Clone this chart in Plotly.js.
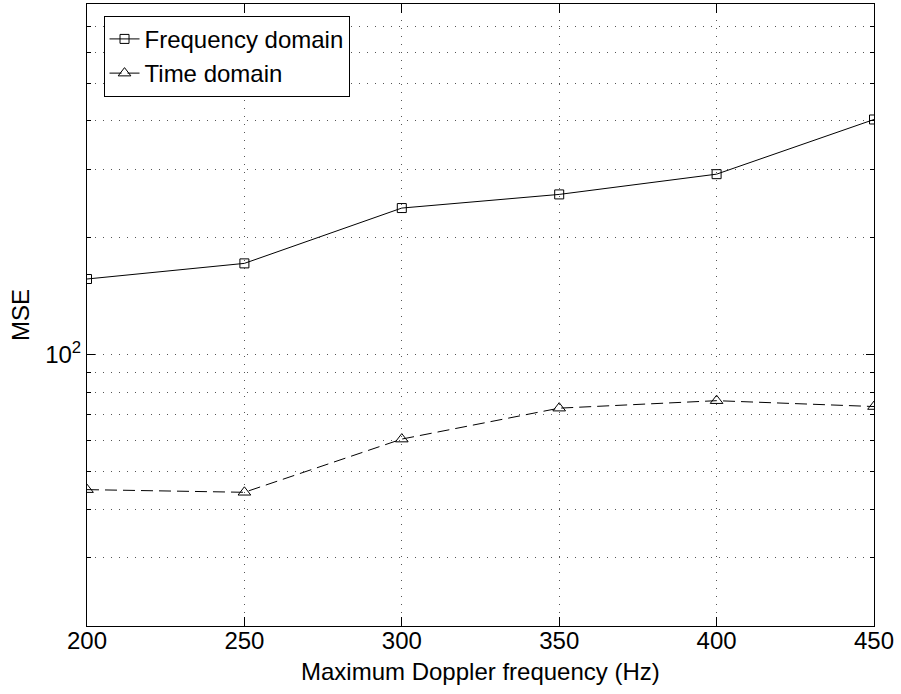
<!DOCTYPE html>
<html>
<head>
<meta charset="utf-8">
<script src="https://cdn.plot.ly/plotly-3.0.1.min.js"></script>
<style>
html,body{margin:0;padding:0;background:#fff;}
#chart{width:901px;height:694px;}
</style>
</head>
<body>
<div id="chart"></div>
<script>
// Data
const dopplerHz = [200, 250, 300, 350, 400, 450];
const mseFrequencyDomain = [156.6, 171.8, 238.5, 258.6, 291.6, 403.3];
const mseTimeDomain = [44.9, 44.2, 60.6, 72.8, 76.1, 73.5];
const seriesNames = ["Frequency domain", "Time domain"];

const xTickVals = [200, 250, 300, 350, 400, 450];
const yMajorVals = [100];
const yMajorText = ["10<sup>2</sup>"];
const yMinorVals = [20, 30, 40, 50, 60, 70, 80, 90, 200, 300, 400, 500, 600, 700, 800];
const xAxisTitle = "Maximum Doppler frequency (Hz)";
const yAxisTitle = "MSE";

const FONT = "Liberation Sans, Arial, Helvetica, sans-serif";
const GRID = {gridcolor: "#555", gridwidth: 1, griddash: "1px,7px"};

const traces = [
  {
    x: dopplerHz, y: mseFrequencyDomain, name: seriesNames[0],
    type: "scatter", mode: "lines+markers",
    line: {color: "#000", width: 1},
    marker: {symbol: "square-open", size: 9, color: "#000", line: {width: 1, color: "#000"}}
  },
  {
    x: dopplerHz, y: mseTimeDomain, name: seriesNames[1],
    type: "scatter", mode: "lines+markers",
    line: {color: "#000", width: 1, dash: "12px,6px"},
    marker: {symbol: "triangle-up-open", size: 11, color: "#000", line: {width: 1, color: "#000"}}
  }
];

const layout = {
  width: 901, height: 694,
  paper_bgcolor: "#fff", plot_bgcolor: "#fff",
  margin: {l: 86.5, r: 27, t: 4, b: 68.3, pad: 0},
  font: {family: FONT, size: 24, color: "#000"},
  showlegend: true,
  legend: {
    x: 0.021, y: 0.981, xanchor: "left", yanchor: "top",
    bgcolor: "#fff", bordercolor: "#000", borderwidth: 1,
    font: {family: FONT, size: 24, color: "#000"},
    tracegroupgap: 0
  },
  xaxis: {
    type: "linear", range: [200, 450],
    tickmode: "array", tickvals: xTickVals,
    ticks: "inside", ticklen: 9, tickcolor: "#000", tickwidth: 1,
    ticklabelstandoff: -7,
    showline: true, linecolor: "#000", linewidth: 1, mirror: "ticks",
    showgrid: true, ...GRID,
    zeroline: false,
    tickfont: {family: FONT, size: 24, color: "#000"}
  },
  yaxis: {
    type: "log", range: [Math.log10(20), Math.log10(800)],
    tickmode: "array", tickvals: yMajorVals, ticktext: yMajorText,
    ticks: "inside", ticklen: 8, tickcolor: "#000", tickwidth: 1,
    showline: true, linecolor: "#000", linewidth: 1, mirror: "ticks",
    showgrid: true, ...GRID,
    minor: {tickmode: "array", tickvals: yMinorVals, ticks: "inside", ticklen: 4,
            tickcolor: "#000", tickwidth: 1, showgrid: true, ...GRID},
    zeroline: false,
    tickfont: {family: FONT, size: 24, color: "#000"},
    title: {text: yAxisTitle, font: {family: FONT, size: 24, color: "#000"}, standoff: 8}
  },
  annotations: [
    {text: xAxisTitle, xref: "paper", yref: "paper", x: 0.5, y: -0.0729,
     xanchor: "center", yanchor: "middle", showarrow: false,
     font: {family: FONT, size: 24, color: "#000"}}
  ]
};

Plotly.newPlot("chart", traces, layout, {displayModeBar: false, staticPlot: true});
</script>
</body>
</html>
